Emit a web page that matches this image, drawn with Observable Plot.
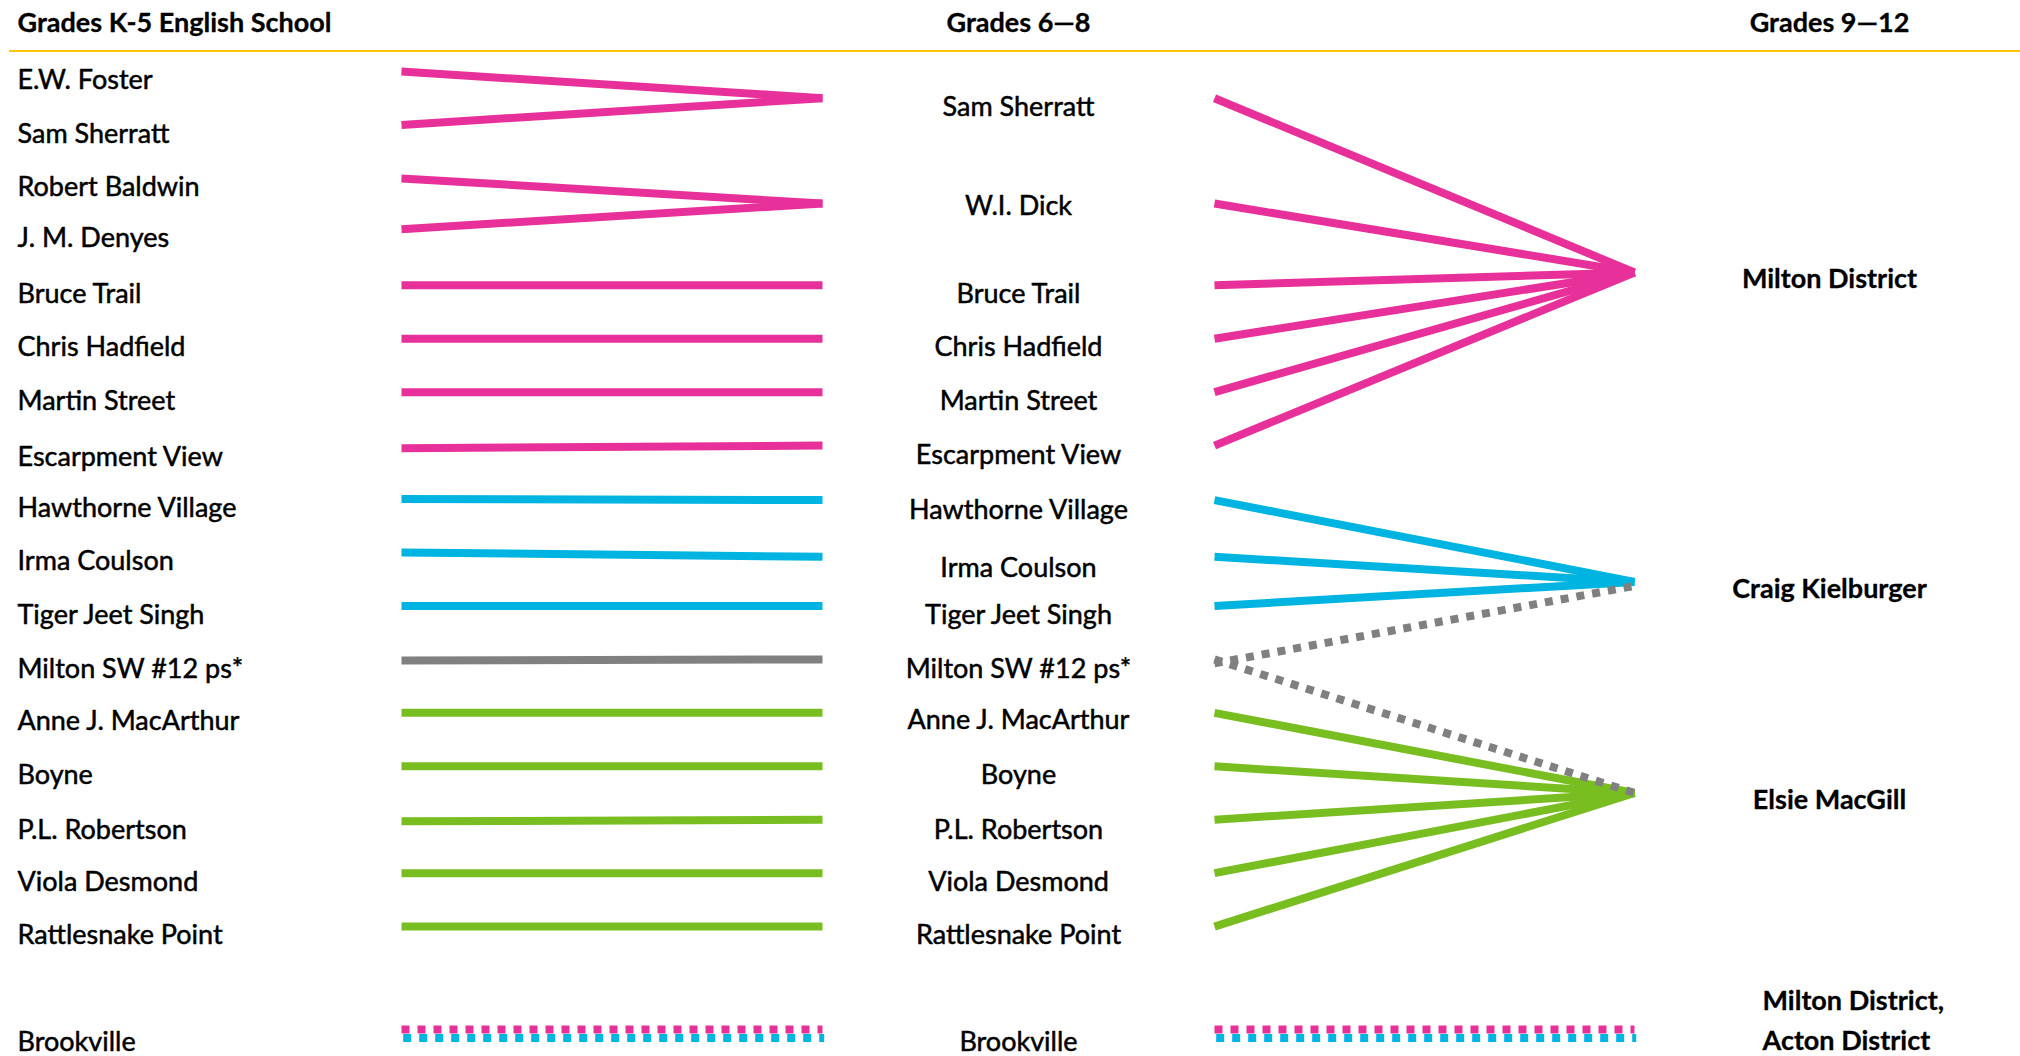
<!DOCTYPE html>
<html><head><meta charset="utf-8">
<script src="https://cdn.jsdelivr.net/npm/d3@7"></script>
<script src="https://cdn.jsdelivr.net/npm/@observablehq/plot@0.6"></script>
<style>html,body{margin:0;padding:0;background:#fff;overflow:hidden}</style>
</head><body><div id="chart"></div>
<script>
// ---- data ----
const headers = ["Grades K-5 English School", "Grades 6—8", "Grades 9—12"];

const elementary = ["E.W. Foster", "Sam Sherratt", "Robert Baldwin", "J. M. Denyes", "Bruce Trail",
  "Chris Hadfield", "Martin Street", "Escarpment View", "Hawthorne Village", "Irma Coulson",
  "Tiger Jeet Singh", "Milton SW #12 ps*", "Anne J. MacArthur", "Boyne", "P.L. Robertson",
  "Viola Desmond", "Rattlesnake Point", "Brookville"];
const elementaryRow = [0, 1, 2, 2.95, 4, 5, 6, 7.05, 8, 9, 10, 11.02, 12, 13, 14.03, 15, 16, 18];
// which Grades 6-8 school each K-5 school feeds into
const elementaryFeeds = ["Sam Sherratt", "Sam Sherratt", "W.I. Dick", "W.I. Dick", "Bruce Trail",
  "Chris Hadfield", "Martin Street", "Escarpment View", "Hawthorne Village", "Irma Coulson",
  "Tiger Jeet Singh", "Milton SW #12 ps*", "Anne J. MacArthur", "Boyne", "P.L. Robertson",
  "Viola Desmond", "Rattlesnake Point", "Brookville"];

const middle = ["Sam Sherratt", "W.I. Dick", "Bruce Trail", "Chris Hadfield", "Martin Street",
  "Escarpment View", "Hawthorne Village", "Irma Coulson", "Tiger Jeet Singh", "Milton SW #12 ps*",
  "Anne J. MacArthur", "Boyne", "P.L. Robertson", "Viola Desmond", "Rattlesnake Point", "Brookville"];
const middleRow = [0.5, 2.47, 4, 5, 6, 7, 8.02, 9.08, 10, 11, 12, 13, 14, 15, 16, 18];
const middleLabelRow = [0.5, 2.35, 4, 5, 6, 7.02, 8.05, 9.12, 10, 11.02, 11.97, 13, 14.03, 15, 16, 18];
// which Grades 9-12 school(s) each Grades 6-8 school feeds into
const middleFeeds = [
  ["Milton District"], ["Milton District"], ["Milton District"], ["Milton District"], ["Milton District"], ["Milton District"],
  ["Craig Kielburger"], ["Craig Kielburger"], ["Craig Kielburger"],
  ["Craig Kielburger", "Elsie MacGill"],
  ["Elsie MacGill"], ["Elsie MacGill"], ["Elsie MacGill"], ["Elsie MacGill"], ["Elsie MacGill"],
  ["Milton District", "Acton District"]];

const high = ["Milton District", "Craig Kielburger", "Elsie MacGill", "Milton District, Acton District"];
const highLabel = ["Milton District", "Craig Kielburger", "Elsie MacGill", "Milton District,\nActon District"];
const highRow = [3.76, 9.55, 13.5, 18];

const pathways = ["Milton District", "Craig Kielburger", "Elsie MacGill", "Split", "Acton District"];
const pathwayColors = ["#E8309A", "#00B4E1", "#78BE21", "#808080", "#00B4E1"];

// ---- derived tables ----
const middleIndex = new Map(middle.map((d, i) => [d, i]));
const highRowOf = new Map([
  ["Milton District", highRow[0]], ["Craig Kielburger", highRow[1]], ["Elsie MacGill", highRow[2]],
  ["Acton District", highRow[3]]]);
const pathOfMiddle = middleFeeds.map(f => f.length > 1 ? (f[1] === "Acton District" ? "Brookville" : "Split") : f[0]);

const leftLinks = [];
elementary.forEach((name, i) => {
  const j = middleIndex.get(elementaryFeeds[i]);
  const p = pathOfMiddle[j];
  const keys = p === "Brookville" ? ["Milton District", "Acton District"] : [p];
  keys.forEach(k => leftLinks.push({x1: 1, y1: elementaryRow[i], x2: 2, y2: middleRow[j], key: k, brook: p === "Brookville"}));
});
const rightLinks = [];
middle.forEach((name, j) => {
  const p = pathOfMiddle[j];
  middleFeeds[j].forEach(h => {
    const key = p === "Split" ? "Split" : h;
    const y2 = p === "Brookville" ? highRow[3] : highRowOf.get(h);
    rightLinks.push({x1: 4, y1: middleRow[j], x2: 5, y2, key, brook: p === "Brookville", split: p === "Split", to: h});
  });
});
const links = leftLinks.concat(rightLinks);

const elemTable = elementary.map((name, i) => ({name, row: elementaryRow[i]}));
const midTable = middle.map((name, i) => ({name, row: middleLabelRow[i]}));
const highTable = high.map((name, i) => ({name: highLabel[i], row: highRow[i], multi: i === 3}));

const FS = 27;
const SW = 8;
const DASH = "8,8";
const base = {x1: "x1", y1: "y1", x2: "x2", y2: "y2", stroke: "key", strokeWidth: SW, strokeLinecap: "butt"};
const txt = {fontSize: FS, fill: "#000", stroke: "#000", strokeWidth: 0.5, lineAnchor: "middle"};

const chart = Plot.plot({
  width: 2020, height: 1056, margin: 0,
  x: {type: "linear", domain: [0, 1, 2, 3, 4, 5, 6], range: [17, 401, 822, 1018, 1214, 1634, 1829], axis: null},
  y: {type: "linear", domain: [0, 18], range: [71, 1033], axis: null},
  color: {domain: pathways, range: pathwayColors},
  style: {fontFamily: "Lato, sans-serif", background: "white", color: "black"},
  marks: [
    // header rule
    Plot.ruleY([-0.385], {stroke: "#FFC800", strokeWidth: 2, insetLeft: 9}),
    // headers
    Plot.text([headers[0]], {...txt, x: () => 0, frameAnchor: "top", dy: 23, textAnchor: "start", fontWeight: "bold", strokeWidth: 0.3}),
    Plot.text([headers[1]], {...txt, x: () => 3, frameAnchor: "top", dy: 23, textAnchor: "middle", fontWeight: "bold", strokeWidth: 0.3}),
    Plot.text([headers[2]], {...txt, x: () => 6, frameAnchor: "top", dy: 23, textAnchor: "middle", fontWeight: "bold", strokeWidth: 0.3}),
    // solid links
    Plot.link(links.filter(d => !d.brook && !d.split), base),
    // split (dotted grey)
    Plot.link(links.filter(d => d.split && d.to === "Craig Kielburger"), {...base, strokeDasharray: DASH, dy: 4}),
    Plot.link(links.filter(d => d.split && d.to !== "Craig Kielburger"), {...base, strokeDasharray: DASH}),
    // Brookville double dashed
    Plot.link(links.filter(d => d.brook && d.key === "Milton District"), {...base, strokeDasharray: DASH, dy: -4}),
    Plot.link(links.filter(d => d.brook && d.key === "Acton District"), {...base, strokeDasharray: DASH, dy: 4.5, dx: 1.7}),
    // labels
    Plot.text(elemTable, {...txt, x: () => 0, y: "row", text: "name", textAnchor: "start", dy: 9}),
    Plot.text(midTable, {...txt, x: () => 3, y: "row", text: "name", textAnchor: "middle", dy: 9}),
    Plot.text(highTable.filter(d => !d.multi), {...txt, x: () => 6, y: "row", text: "name", textAnchor: "middle", dy: 7, fontWeight: "bold", strokeWidth: 0.3}),
    Plot.text(highTable.filter(d => d.multi), {...txt, x: () => 6, y: "row", text: "name", textAnchor: "start", dx: -67, dy: -16, lineHeight: 1.48, fontWeight: "bold", strokeWidth: 0.3})
  ]
});
document.getElementById("chart").appendChild(chart);
</script>
</body></html>
